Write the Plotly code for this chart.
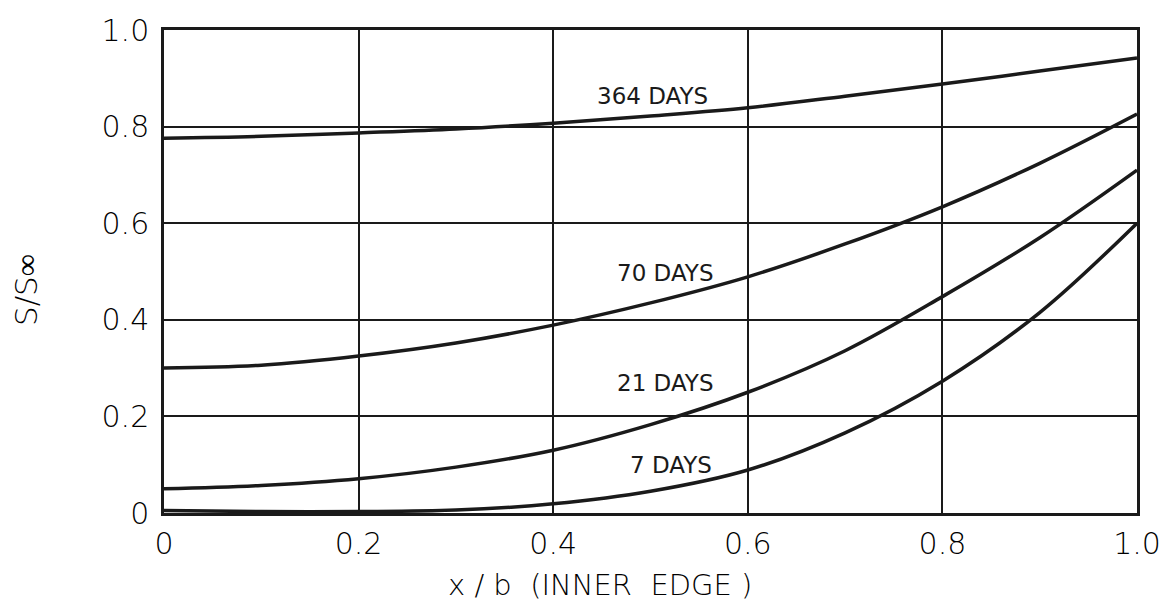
import plotly.graph_objects as go

# Relative position across the section
x_pos = [0.0, 0.1, 0.2, 0.3, 0.4, 0.5, 0.6, 0.7, 0.8, 0.9, 1.0]

# S/S_inf profiles for each exposure time
s_364 = [0.776, 0.780, 0.787, 0.795, 0.807, 0.822, 0.839, 0.863, 0.888, 0.915, 0.942]
s_70 = [0.300, 0.306, 0.325, 0.352, 0.389, 0.435, 0.489, 0.557, 0.634, 0.724, 0.826]
s_21 = [0.050, 0.057, 0.071, 0.095, 0.130, 0.183, 0.250, 0.336, 0.448, 0.570, 0.710]
s_7 = [0.005, 0.003, 0.003, 0.006, 0.019, 0.045, 0.089, 0.166, 0.273, 0.415, 0.600]

series_names = ["364 DAYS", "70 DAYS", "21 DAYS", "7 DAYS"]
series_values = [s_364, s_70, s_21, s_7]
label_x = [0.502, 0.515, 0.515, 0.521]
label_y = [0.864, 0.497, 0.269, 0.099]

tick_vals = [0.0, 0.2, 0.4, 0.6, 0.8, 1.0]
tick_text = ["0", "0.2", "0.4", "0.6", "0.8", "1.0"]

FONT = "DejaVu Sans"
INK = "#1a1a1a"

fig = go.Figure()
for name, vals in zip(series_names, series_values):
    fig.add_trace(go.Scatter(
        x=x_pos, y=vals, mode="lines", name=name,
        line=dict(color=INK, width=3.5, shape="spline", smoothing=1.0),
        showlegend=False,
    ))

for name, lx, ly in zip(series_names, label_x, label_y):
    fig.add_annotation(x=lx, y=ly, xref="x", yref="y", text=name,
                       showarrow=False, font=dict(family=FONT, size=23, color=INK))

axis_common = dict(
    range=[0, 1], tickvals=tick_vals, ticktext=tick_text,
    showgrid=True, gridcolor=INK, gridwidth=1.6,
    showline=True, linecolor=INK, linewidth=2.5, mirror=True,
    zeroline=False, ticks="",
    tickfont=dict(family=FONT, size=30, color="black", weight=200),
)

fig.update_xaxes(**axis_common, ticklabelstandoff=2)
fig.update_yaxes(**axis_common, ticklabelstandoff=6)

fig.add_annotation(x=(600 - 164) / 973, y=-(585 - 513) / 483, xref="paper", yref="paper",
                   xanchor="center", yanchor="middle",
                   text="x / b  (INNER  EDGE )", showarrow=False,
                   font=dict(family=FONT, size=29, color="black", weight=200))
fig.add_annotation(x=(26 - 164) / 973, y=(513 - 290) / 483, xref="paper", yref="paper",
                   xanchor="center", yanchor="middle",
                   text="S/S∞", textangle=-90, showarrow=False,
                   font=dict(family=FONT, size=31, color="black", weight=200))

fig.update_layout(
    width=1175, height=611,
    margin=dict(l=164, r=38, t=30, b=98),
    paper_bgcolor="white", plot_bgcolor="white",
)

fig.write_html("out.html")
